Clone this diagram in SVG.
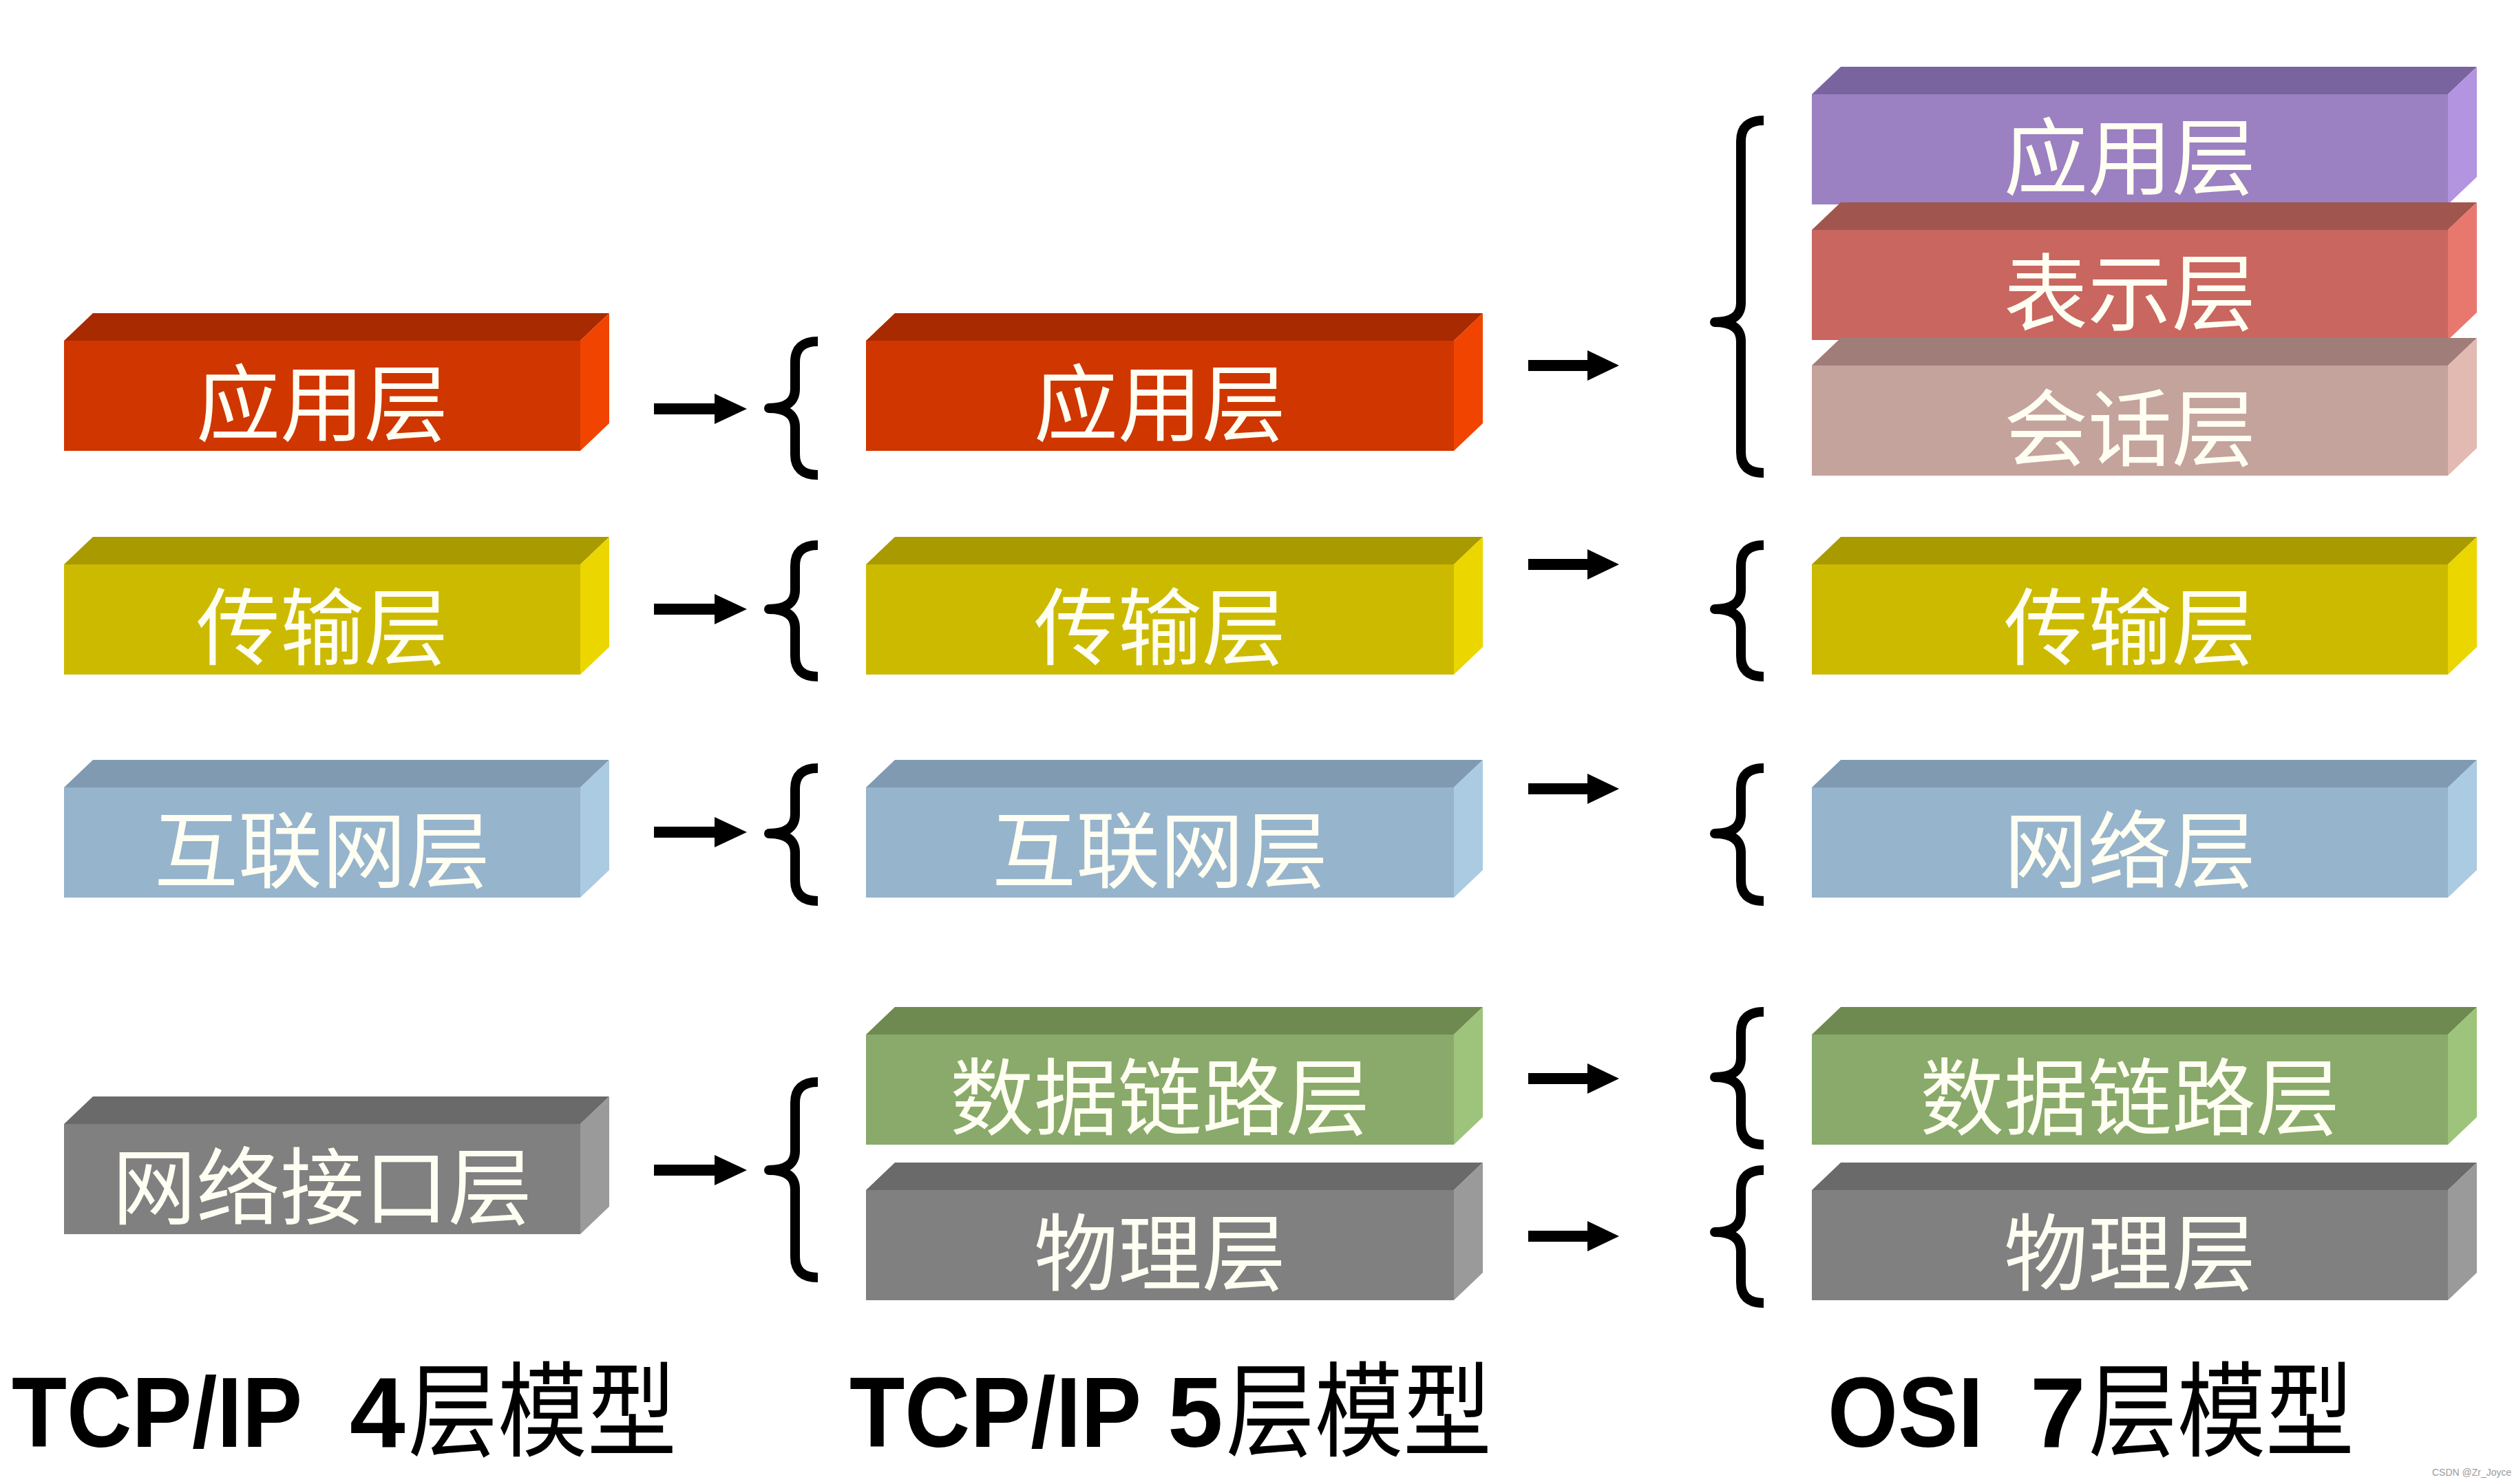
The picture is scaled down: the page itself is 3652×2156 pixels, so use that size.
<svg xmlns="http://www.w3.org/2000/svg" width="3652" height="2156" viewBox="0 0 3652 2156">
<style>
.lbl{font-family:"Noto Sans CJK SC","Noto Sans",sans-serif;font-size:122px;fill:#FFFEF2;text-anchor:middle}
.lat{font-family:"Liberation Sans",Arial,sans-serif;font-weight:bold;font-size:145px;fill:#000}
.cjk{font-family:"Noto Sans CJK SC",sans-serif;font-size:150px;fill:#000}
.wm{font-family:"Liberation Sans",Arial,sans-serif;font-size:14px;fill:#9a9a9a}
.red .f{fill:#D03600}.red .t{fill:#A82A00}.red .s{fill:#F04400}
.yel .f{fill:#CCBA00}.yel .t{fill:#A99A00}.yel .s{fill:#ECD600}
.blu .f{fill:#96B4CC}.blu .t{fill:#7F9AB1}.blu .s{fill:#AACBE2}
.gry .f{fill:#808080}.gry .t{fill:#6A6A6A}.gry .s{fill:#9A9A9A}
.grn .f{fill:#89AA6A}.grn .t{fill:#6E8A50}.grn .s{fill:#9DC47A}
.pur .f{fill:#9B80C2}.pur .t{fill:#7A64A0}.pur .s{fill:#B294E0}
.pnk .f{fill:#C9665F}.pnk .t{fill:#A0564F}.pnk .s{fill:#E8786D}
.ros .f{fill:#C4A39C}.ros .t{fill:#A07D78}.ros .s{fill:#E2BAB2}
.br{fill:none;stroke:#000;stroke-width:14;stroke-linejoin:round}
.ar{fill:#000}
</style>

<!-- Column 1: TCP/IP 4 layers  (x0=93, x1=885, d=42, h=40) -->
<g id="c1-app" class="red">
<polygon class="t" points="93,495 135,455 885,455 843,495"/>
<polygon class="s" points="843,495 885,455 885,615 843,655"/>
<rect class="f" x="93" y="495" width="750" height="160"/>
<text class="lbl" x="468" y="631">应用层</text>
</g>
<g id="c1-tra" class="yel">
<polygon class="t" points="93,820 135,780 885,780 843,820"/>
<polygon class="s" points="843,820 885,780 885,940 843,980"/>
<rect class="f" x="93" y="820" width="750" height="160"/>
<text class="lbl" x="468" y="956">传输层</text>
</g>
<g id="c1-net" class="blu">
<polygon class="t" points="93,1144 135,1104 885,1104 843,1144"/>
<polygon class="s" points="843,1144 885,1104 885,1264 843,1304"/>
<rect class="f" x="93" y="1144" width="750" height="160"/>
<text class="lbl" x="468" y="1280">互联网层</text>
</g>
<g id="c1-if" class="gry">
<polygon class="t" points="93,1633 135,1593 885,1593 843,1633"/>
<polygon class="s" points="843,1633 885,1593 885,1753 843,1793"/>
<rect class="f" x="93" y="1633" width="750" height="160"/>
<text class="lbl" x="468" y="1769">网络接口层</text>
</g>

<!-- Column 2: TCP/IP 5 layers (x0=1258, x1=2154) -->
<g id="c2-app" class="red">
<polygon class="t" points="1258,495 1300,455 2154,455 2112,495"/>
<polygon class="s" points="2112,495 2154,455 2154,615 2112,655"/>
<rect class="f" x="1258" y="495" width="854" height="160"/>
<text class="lbl" x="1685" y="631">应用层</text>
</g>
<g id="c2-tra" class="yel">
<polygon class="t" points="1258,820 1300,780 2154,780 2112,820"/>
<polygon class="s" points="2112,820 2154,780 2154,940 2112,980"/>
<rect class="f" x="1258" y="820" width="854" height="160"/>
<text class="lbl" x="1685" y="956">传输层</text>
</g>
<g id="c2-net" class="blu">
<polygon class="t" points="1258,1144 1300,1104 2154,1104 2112,1144"/>
<polygon class="s" points="2112,1144 2154,1104 2154,1264 2112,1304"/>
<rect class="f" x="1258" y="1144" width="854" height="160"/>
<text class="lbl" x="1685" y="1280">互联网层</text>
</g>
<g id="c2-dl" class="grn">
<polygon class="t" points="1258,1503 1300,1463 2154,1463 2112,1503"/>
<polygon class="s" points="2112,1503 2154,1463 2154,1623 2112,1663"/>
<rect class="f" x="1258" y="1503" width="854" height="160"/>
<text class="lbl" x="1685" y="1639">数据链路层</text>
</g>
<g id="c2-phy" class="gry">
<polygon class="t" points="1258,1729 1300,1689 2154,1689 2112,1729"/>
<polygon class="s" points="2112,1729 2154,1689 2154,1849 2112,1889"/>
<rect class="f" x="1258" y="1729" width="854" height="160"/>
<text class="lbl" x="1685" y="1865">物理层</text>
</g>

<!-- Column 3: OSI 7 layers (x0=2632, x1=3598) -->
<g id="c3-app" class="pur">
<polygon class="t" points="2632,137 2674,97 3598,97 3556,137"/>
<polygon class="s" points="3556,137 3598,97 3598,257 3556,297"/>
<rect class="f" x="2632" y="137" width="924" height="160"/>
<text class="lbl" x="3094" y="273">应用层</text>
</g>
<g id="c3-pre" class="pnk">
<polygon class="t" points="2632,334 2674,294 3598,294 3556,334"/>
<polygon class="s" points="3556,334 3598,294 3598,454 3556,494"/>
<rect class="f" x="2632" y="334" width="924" height="160"/>
<text class="lbl" x="3094" y="470">表示层</text>
</g>
<g id="c3-ses" class="ros">
<polygon class="t" points="2632,531 2674,491 3598,491 3556,531"/>
<polygon class="s" points="3556,531 3598,491 3598,651 3556,691"/>
<rect class="f" x="2632" y="531" width="924" height="160"/>
<text class="lbl" x="3094" y="667">会话层</text>
</g>
<g id="c3-tra" class="yel">
<polygon class="t" points="2632,820 2674,780 3598,780 3556,820"/>
<polygon class="s" points="3556,820 3598,780 3598,940 3556,980"/>
<rect class="f" x="2632" y="820" width="924" height="160"/>
<text class="lbl" x="3094" y="956">传输层</text>
</g>
<g id="c3-net" class="blu">
<polygon class="t" points="2632,1144 2674,1104 3598,1104 3556,1144"/>
<polygon class="s" points="3556,1144 3598,1104 3598,1264 3556,1304"/>
<rect class="f" x="2632" y="1144" width="924" height="160"/>
<text class="lbl" x="3094" y="1280">网络层</text>
</g>
<g id="c3-dl" class="grn">
<polygon class="t" points="2632,1503 2674,1463 3598,1463 3556,1503"/>
<polygon class="s" points="3556,1503 3598,1463 3598,1623 3556,1663"/>
<rect class="f" x="2632" y="1503" width="924" height="160"/>
<text class="lbl" x="3094" y="1639">数据链路层</text>
</g>
<g id="c3-phy" class="gry">
<polygon class="t" points="2632,1729 2674,1689 3598,1689 3556,1729"/>
<polygon class="s" points="3556,1729 3598,1689 3598,1849 3556,1889"/>
<rect class="f" x="2632" y="1729" width="924" height="160"/>
<text class="lbl" x="3094" y="1865">物理层</text>
</g>

<!-- Connectors: arrows and braces -->
<g id="connectors">
<g id="arrows-1">
<polygon class="ar" points="950,586 1038,586 1038,572 1085,594 1038,616 1038,602 950,602"/>
<polygon class="ar" points="950,877 1038,877 1038,863 1085,885 1038,907 1038,893 950,893"/>
<polygon class="ar" points="950,1201 1038,1201 1038,1187 1085,1209 1038,1231 1038,1217 950,1217"/>
<polygon class="ar" points="950,1692 1038,1692 1038,1678 1085,1700 1038,1722 1038,1708 950,1708"/>
</g>
<g id="braces-1">
<path class="br" d="M1188,496 Q1155,496 1155,526 L1155,565 Q1155,593 1117,593 Q1155,593 1155,621 L1155,660 Q1155,690 1188,690"/>
<path class="br" d="M1188,792 Q1155,792 1155,822 L1155,857 Q1155,885 1117,885 Q1155,885 1155,913 L1155,953 Q1155,983 1188,983"/>
<path class="br" d="M1188,1116 Q1155,1116 1155,1146 L1155,1183 Q1155,1211 1117,1211 Q1155,1211 1155,1239 L1155,1279 Q1155,1309 1188,1309"/>
<path class="br" d="M1188,1572 Q1155,1572 1155,1602 L1155,1672 Q1155,1700 1117,1700 Q1155,1700 1155,1728 L1155,1826 Q1155,1856 1188,1856"/>
</g>
<g id="arrows-2">
<polygon class="ar" points="2220,523 2306,523 2306,509 2352,531 2306,553 2306,539 2220,539"/>
<polygon class="ar" points="2220,812 2306,812 2306,798 2352,820 2306,842 2306,828 2220,828"/>
<polygon class="ar" points="2220,1138 2306,1138 2306,1124 2352,1146 2306,1168 2306,1154 2220,1154"/>
<polygon class="ar" points="2220,1559 2306,1559 2306,1545 2352,1567 2306,1589 2306,1575 2220,1575"/>
<polygon class="ar" points="2220,1788 2306,1788 2306,1774 2352,1796 2306,1818 2306,1804 2220,1804"/>
</g>
<g id="braces-2">
<path class="br" d="M2562,175 Q2529,175 2529,205 L2529,440 Q2529,468 2491,468 Q2529,468 2529,496 L2529,657 Q2529,687 2562,687"/>
<path class="br" d="M2562,792 Q2529,792 2529,822 L2529,857 Q2529,885 2491,885 Q2529,885 2529,913 L2529,953 Q2529,983 2562,983"/>
<path class="br" d="M2562,1116 Q2529,1116 2529,1146 L2529,1183 Q2529,1211 2491,1211 Q2529,1211 2529,1239 L2529,1279 Q2529,1309 2562,1309"/>
<path class="br" d="M2562,1470 Q2529,1470 2529,1500 L2529,1537 Q2529,1565 2491,1565 Q2529,1565 2529,1593 L2529,1633 Q2529,1663 2562,1663"/>
<path class="br" d="M2562,1700 Q2529,1700 2529,1730 L2529,1762 Q2529,1790 2491,1790 Q2529,1790 2529,1818 L2529,1863 Q2529,1893 2562,1893"/>
</g>
</g>

<!-- Titles -->
<g id="title-4">
<text class="lat" x="17" y="2102" textLength="422" lengthAdjust="spacingAndGlyphs">TCP/IP</text>
<text class="lat" x="508" y="2102">4</text>
<text class="cjk" x="593" y="2104" textLength="390" lengthAdjust="spacingAndGlyphs">层模型</text>
</g>
<g id="title-5">
<text class="lat" x="1234" y="2102" textLength="424" lengthAdjust="spacingAndGlyphs">TCP/IP</text>
<text class="lat" x="1696" y="2102">5</text>
<text class="cjk" x="1781" y="2104" textLength="386" lengthAdjust="spacingAndGlyphs">层模型</text>
</g>
<g id="title-7">
<text class="lat" x="2655" y="2102" textLength="226" lengthAdjust="spacingAndGlyphs">OSI</text>
<text class="lat" x="2949" y="2102">7</text>
<text class="cjk" x="3034" y="2104" textLength="386" lengthAdjust="spacingAndGlyphs">层模型</text>
</g>
<text class="wm" x="3533" y="2144">CSDN @Zr_Joyce</text>
</svg>
